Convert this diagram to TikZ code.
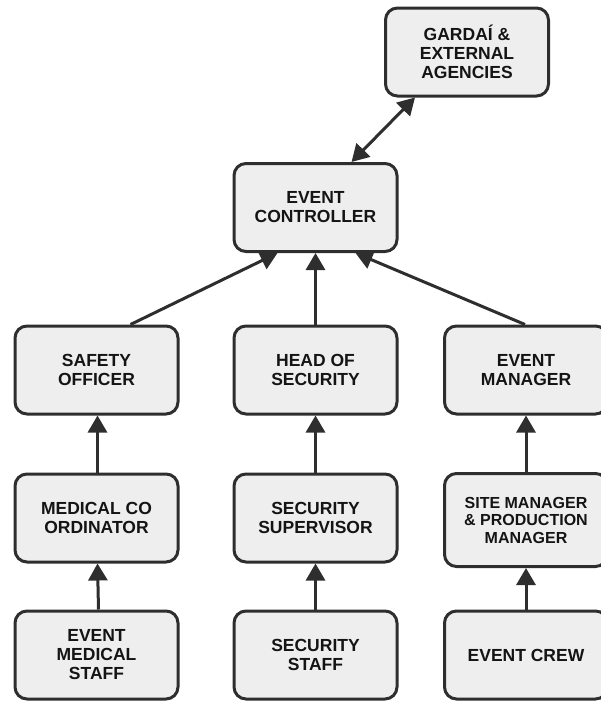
\documentclass[tikz,border=0pt]{standalone}
\usepackage{fontspec}
\setmainfont{Liberation Sans}
\usetikzlibrary{arrows.meta}
\definecolor{boxfill}{HTML}{EEEEEE}
\definecolor{edgecol}{HTML}{2E2E2E}
\begin{document}
\begin{tikzpicture}[x=1pt,y=-1pt,
  box/.style={draw=edgecol, line width=3pt, fill=boxfill, rounded corners=12pt,
    minimum width=163pt, minimum height=88pt, align=center, inner sep=2pt,
    font=\fontsize{17.5}{19}\selectfont\bfseries, text=black!92},
  smallbox/.style={box, minimum height=93pt, font=\fontsize{16}{17.5}\selectfont\bfseries},
  conn/.style={draw=edgecol, line width=3pt, -{Triangle[width=19pt,length=17pt]}},
  conn2/.style={draw=edgecol, line width=3pt, {Triangle[width=19pt,length=17pt]}-{Triangle[width=19pt,length=17pt]}}]
\useasboundingbox (0,0) rectangle (600,704);
\node[box] (G) at (467,52) {GARDAÍ \&\\EXTERNAL\\AGENCIES};
\node[box] (EC) at (315.5,207.5) {EVENT\\CONTROLLER};
\node[box] (SO) at (96.5,370) {SAFETY\\OFFICER};
\node[box] (HS) at (315.5,370) {HEAD OF\\SECURITY};
\node[box] (EM) at (526,370) {EVENT\\MANAGER};
\node[box] (MC) at (96.5,518) {MEDICAL CO\\ORDINATOR};
\node[box] (SS) at (315.5,518) {SECURITY\\SUPERVISOR};
\node[smallbox] (SM) at (526,520) {SITE MANAGER\\\& PRODUCTION\\MANAGER};
\node[box] (EMS) at (96.5,655) {EVENT\\MEDICAL\\STAFF};
\node[box] (SST) at (315.5,655) {SECURITY\\STAFF};
\node[box] (CREW) at (526,655) {EVENT CREW};
\draw[conn2] ([xshift=36pt]EC.north) -- ([xshift=-52pt]G.south);
\draw[conn] ([xshift=34pt]SO.north) -- ([xshift=-38pt]EC.south);
\draw[conn] (HS.north) -- (EC.south);
\draw[conn] ([xshift=-1pt]EM.north) -- ([xshift=40pt]EC.south);
\draw[conn] ([xshift=1pt]MC.north) -- ([xshift=1pt]SO.south);
\draw[conn] ([xshift=2pt]EMS.north) -- ([xshift=1pt]MC.south);
\draw[conn] (SS.north) -- (HS.south);
\draw[conn] (SST.north) -- (SS.south);
\draw[conn] (SM.north) -- (EM.south);
\draw[conn] (CREW.north) -- (SM.south);
\end{tikzpicture}
\end{document}
